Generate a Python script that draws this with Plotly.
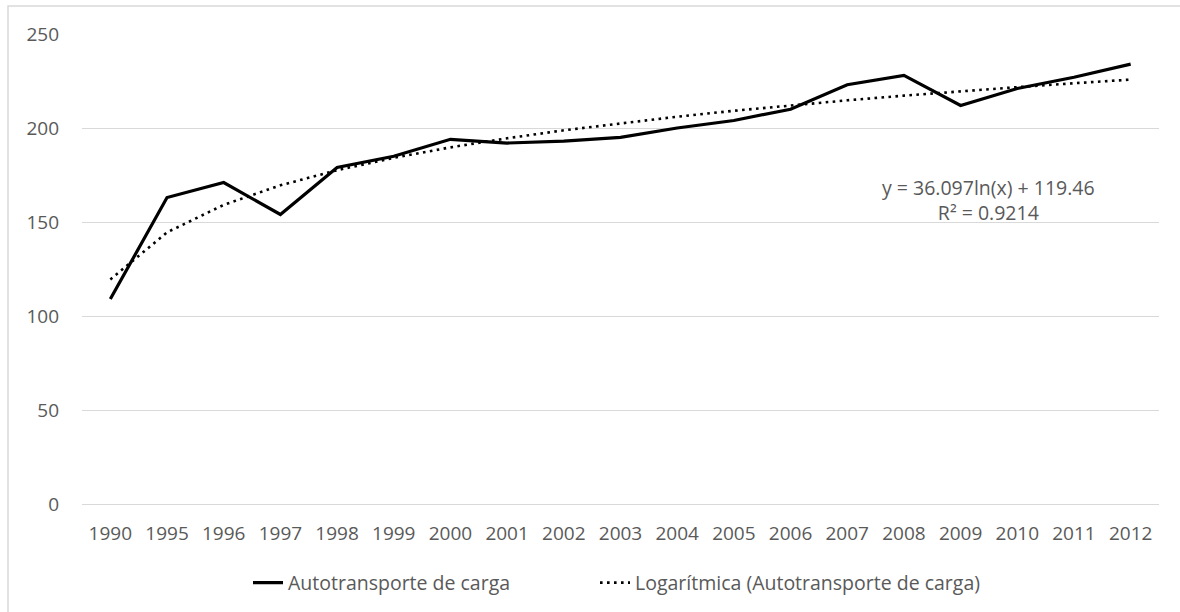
import plotly.graph_objects as go

years = ["1990", "1995", "1996", "1997", "1998", "1999", "2000", "2001", "2002", "2003",
         "2004", "2005", "2006", "2007", "2008", "2009", "2010", "2011", "2012"]
carga = [109, 163, 171, 154, 179, 185, 194, 192, 193, 195,
         200, 204, 210, 223, 228, 212, 221, 227, 234]
# Trendline values as shown (y = 36.097 ln(x) + 119.46)
tendencia = [119.46, 144.48, 159.12, 169.50, 177.56, 184.14, 189.70, 194.52, 198.77, 202.58,
             206.02, 209.16, 212.05, 214.72, 217.21, 219.54, 221.73, 223.79, 225.75]
serie_nombre = "Autotransporte de carga"
tend_nombre = "Logarítmica (Autotransporte de carga)"
ecuacion = "y = 36.097ln(x) + 119.46<br>R² = 0.9214"

FONT = "'Open Sans', sans-serif"
GRAY = "#595959"
GRID = "#d9d9d9"
FS = 19
FS_LEG = 19.5

fig = go.Figure()
fig.add_trace(go.Scatter(x=years, y=carga, mode="lines", name=serie_nombre,
                         line=dict(color="black", width=3.2), legend="legend"))
fig.add_trace(go.Scatter(x=years, y=tendencia, mode="lines", name=tend_nombre,
                         line=dict(color="black", width=2.6, dash="2.6px,4.4px"),
                         legend="legend2"))

fig.add_annotation(x=0.842, y=0.647, xref="paper", yref="paper", text=ecuacion,
                   showarrow=False, align="center", xanchor="center", yanchor="middle",
                   font=dict(family=FONT, size=FS_LEG, color=GRAY))

fig.add_shape(type="rect", xref="paper", yref="paper",
              x0=-0.0687, x1=1.03, y0=-0.26, y1=1.0596,
              line=dict(color=GRID, width=1.5), fillcolor="rgba(0,0,0,0)", layer="below")

leg_style = dict(orientation="h", xanchor="left", y=-0.168, yanchor="middle",
                 font=dict(family=FONT, size=FS_LEG, color=GRAY),
                 bgcolor="rgba(0,0,0,0)")

fig.update_layout(
    width=1180, height=612,
    margin=dict(l=82, r=21, t=34, b=108, autoexpand=False),
    paper_bgcolor="white", plot_bgcolor="white",
    font=dict(family=FONT, size=FS, color=GRAY),
    showlegend=True,
    legend=dict(x=(248 - 82) / 1077, **leg_style),
    legend2=dict(x=(595 - 82) / 1077, **leg_style),
    hovermode=False,
    xaxis=dict(type="category", range=[-0.5, 18.5], showgrid=False, showline=False,
               ticks="", tickfont=dict(size=FS, color=GRAY), ticklabelstandoff=16,
               automargin=False),
    yaxis=dict(range=[0, 250], tickvals=[0, 50, 100, 150, 200, 250], showgrid=True,
               gridcolor=GRID, gridwidth=1, zeroline=True, zerolinecolor=GRID,
               zerolinewidth=1, showline=False, ticks="",
               tickfont=dict(size=FS, color=GRAY), ticklabelstandoff=22,
               automargin=False),
)

fig.write_html("out.html", config={"displayModeBar": False},
               post_script="document.body.style.margin='0';document.body.style.overflow='hidden';")
